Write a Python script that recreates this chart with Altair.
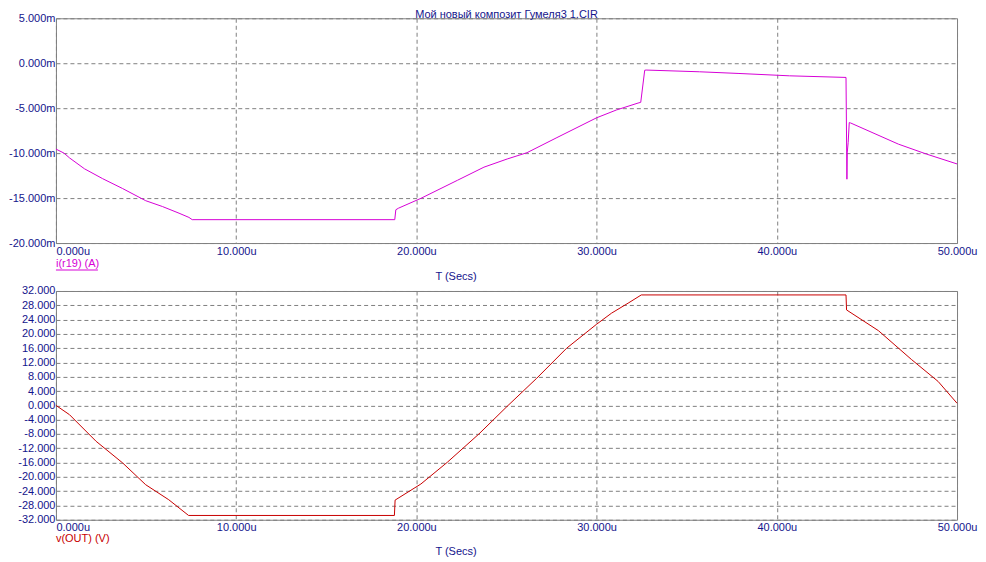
import altair as alt
import pandas as pd

TITLE = "Мой новый композит Гумеля3 1.CIR"
I_LABEL = "i(r19) (A)"
V_LABEL = "v(OUT) (V)"
X_TITLE = "T (Secs)"

# time axis in microseconds
x_ticks = [0, 10, 20, 30, 40, 50]
i_ticks = [5, 0, -5, -10, -15, -20]          # mA
v_ticks = list(range(32, -33, -4))           # V

# i(r19) in mA
t_i = [0.0, 0.44, 0.76, 1.58, 2.59, 3.70, 4.98, 5.91, 6.83, 7.38, 7.56,
       18.80, 18.86, 19.0, 20.25, 22.28, 23.75, 25.04, 26.14, 27.8, 30.0,
       31.1, 32.3, 32.45, 32.67, 32.75, 35.7, 37.9, 40.7, 43.84,
       43.89, 43.91, 43.96, 44.02, 44.1, 46.75, 48.3, 50.0]
i_mA = [-9.55, -9.99, -10.54, -11.74, -12.84, -13.94, -15.29, -15.94, -16.68, -17.15, -17.40,
        -17.40, -16.30, -16.13, -15.03, -13.02, -11.56, -10.65, -9.95, -8.27, -6.07,
        -5.20, -4.43, -4.35, -0.78, -0.76, -0.95, -1.14, -1.40, -1.58,
        -12.9, -9.9, -8.8, -6.6, -6.65, -9.0, -10.1, -11.2]

# v(OUT) in V
t_v = [0.0, 0.75, 2.23, 3.70, 4.98, 6.26, 7.36, 18.78, 18.82, 20.25, 21.72,
       23.47, 25.03, 26.68, 28.34, 30.0, 30.83, 31.75, 32.48, 43.84, 43.87,
       45.64, 47.48, 48.95, 50.0]
v_V = [0.0, -2.6, -10.06, -16.1, -22.2, -26.4, -30.8, -30.8, -26.5, -22.0, -15.9,
       -8.0, -0.3, 7.6, 16.0, 22.7, 25.8, 28.6, 30.9, 30.9, 26.7,
       20.9, 12.8, 6.7, 0.6]

BLUE = "#14148c"
GRID = "#808080"
MAG = "#d600d6"
RED = "#c80000"
FONT = "Liberation Sans"
W = 902
H_TOP = 225
H_BOT = 229


def x_axis(title_y):
    return alt.Axis(
        values=x_ticks,
        labelExpr="format(datum.value, '.3f') + 'u'",
        labelAlign={"condition": {"test": "datum.value == 0", "value": "left"}, "value": "center"},
        labelColor=BLUE, labelFont=FONT, labelFontSize=11, labelPadding=2,
        ticks=False, domain=False,
        grid=True, gridColor=GRID, gridDash=[4, 3], gridWidth=1,
        title=X_TITLE, titleColor=BLUE, titleFont=FONT, titleFontSize=11,
        titleFontWeight="normal", titleX=400, titleY=title_y,
        titleAlign="center", titleBaseline="middle",
    )


def y_axis(values, expr):
    return alt.Axis(
        values=values, labelExpr=expr,
        labelColor=BLUE, labelFont=FONT, labelFontSize=11, labelPadding=1,
        ticks=False, domain=False,
        grid=True, gridColor=GRID, gridDash=[4, 3], gridWidth=1,
        title=None,
    )


df_i = pd.DataFrame({"t": t_i, "i": i_mA})
df_v = pd.DataFrame({"t": t_v, "v": v_V})

top_line = alt.Chart(df_i).mark_line(color=MAG, strokeWidth=1).encode(
    x=alt.X("t:Q", scale=alt.Scale(domain=[0, 50], nice=False), axis=x_axis(33)),
    y=alt.Y("i:Q", scale=alt.Scale(domain=[-20, 5], nice=False, zero=False),
            axis=y_axis(i_ticks, "(datum.value < 0 ? '-' : '') + format(abs(datum.value), '.3f') + 'm'")),
)
top_lbl = alt.Chart(pd.DataFrame({"s": [I_LABEL]})).mark_text(
    align="left", baseline="middle", color=MAG, font=FONT, fontSize=11
).encode(text="s:N", x=alt.value(0), y=alt.value(H_TOP + 21))
top_ul = alt.Chart(pd.DataFrame({"s": [I_LABEL]})).mark_rule(color=MAG, strokeWidth=1).encode(
    x=alt.value(0), x2=alt.value(42), y=alt.value(H_TOP + 27)
)
top = alt.layer(top_line, top_lbl, top_ul).properties(width=W, height=H_TOP)

bot_line = alt.Chart(df_v).mark_line(color=RED, strokeWidth=1).encode(
    x=alt.X("t:Q", scale=alt.Scale(domain=[0, 50], nice=False), axis=x_axis(32)),
    y=alt.Y("v:Q", scale=alt.Scale(domain=[-32, 32], nice=False, zero=False),
            axis=y_axis(v_ticks, "(datum.value < 0 ? '-' : '') + format(abs(datum.value), '.3f')")),
)
bot_lbl = alt.Chart(pd.DataFrame({"s": [V_LABEL]})).mark_text(
    align="left", baseline="middle", color=RED, font=FONT, fontSize=11
).encode(text="s:N", x=alt.value(0), y=alt.value(H_BOT + 19))
bot = alt.layer(bot_line, bot_lbl).properties(width=W, height=H_BOT)

chart = alt.vconcat(top, bot, spacing=48, bounds="flush").properties(
    title=alt.TitleParams(TITLE, color=BLUE, font=FONT, fontSize=11, fontWeight="normal",
                          anchor="middle", frame="group", offset=-8),
    padding={"left": 0, "top": 0, "right": 0, "bottom": 0},
    background="white",
).configure_view(stroke=GRID, strokeWidth=1)

chart.save("out.html", embed_options={"renderer": "svg", "actions": False})
